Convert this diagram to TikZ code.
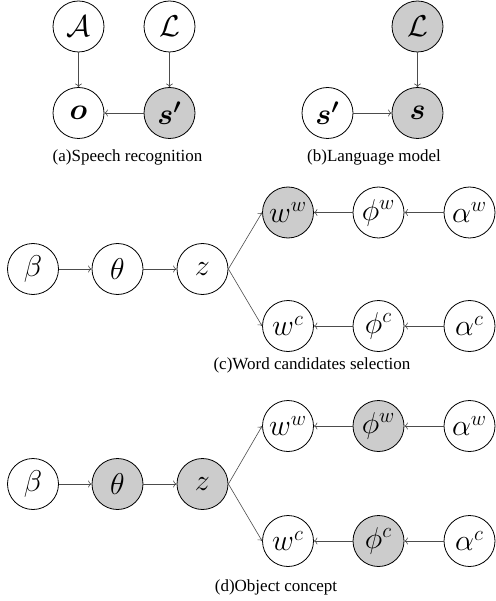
\documentclass[tikz,border=0pt]{standalone}
\usepackage{amsmath}
\usepackage{bm}
\usepackage{graphicx}
\usepackage{fontspec}
\setmainfont{Liberation Serif}
\newfontfamily\capfont{Liberation Serif}
\usetikzlibrary{arrows.meta}

% variable symbol inside a circle, enlarged beyond the largest fixed math size
\newcommand{\mv}[1]{\scalebox{1.74}{\LARGE$#1$}}

\tikzset{
  var/.style={circle, draw=black, line width=0.8pt, fill=white,
    minimum size=51pt, inner sep=0pt},
  obs/.style={var, fill=gray!40},
  edge/.style={draw=black!70, line width=0.6pt, -{To[length=3.5pt,width=7pt]}},
  subcap/.style={font=\capfont\fontsize{17}{20}\selectfont, inner sep=0pt}
}

\begin{document}
\begin{tikzpicture}[x=1pt, y=-1pt]
\useasboundingbox (0,0) rectangle (495,601);

% (a) speech recognition
\node[var] (aA) at (78.5,26.5) {\mv{\mathcal{A}}};
\node[var] (aL) at (169.5,26.5) {\mv{\mathcal{L}}};
\node[var] (ao) at (78.5,113) {\mv{\bm{o}}};
\node[obs] (as) at (169.5,113) {\mv{\bm{s'}}};
\draw[edge] (aA) -- (ao);
\draw[edge] (aL) -- (as);
\draw[edge] (as) -- (ao);
\node[subcap] (capa) at (127.5,157) {(a)Speech recognition};

% (b) language model
\node[obs] (bL) at (417.5,26.5) {\mv{\mathcal{L}}};
\node[var] (bsp) at (327.5,113) {\mv{\bm{s'}}};
\node[obs] (bs) at (417.5,113) {\mv{\bm{s}}};
\draw[edge] (bL) -- (bs);
\draw[edge] (bsp) -- (bs);
\node[subcap] (capb) at (374,157) {(b)Language model};

% (c) word candidates selection
\node[var] (cbeta) at (33,269) {\mv{\beta}};
\node[var] (ctheta) at (117.5,269) {\mv{\theta}};
\node[var] (cz) at (202.5,269) {\mv{z}};
\node[obs] (cww) at (288,212.5) {\mv{w^w}};
\node[var] (cwc) at (288,326) {\mv{w^c}};
\node[var] (cphiw) at (378.5,212.5) {\mv{\phi^w}};
\node[var] (cphic) at (378.5,326) {\mv{\phi^c}};
\node[var] (calw) at (469.5,212.5) {\mv{\alpha^w}};
\node[var] (calc) at (469.5,326) {\mv{\alpha^c}};
\draw[edge] (cbeta) -- (ctheta);
\draw[edge] (ctheta) -- (cz);
\draw[edge] (cz.east) -- (cww.west);
\draw[edge] (cz.east) -- (cwc.west);
\draw[edge] (cphiw) -- (cww);
\draw[edge] (calw) -- (cphiw);
\draw[edge] (cphic) -- (cwc);
\draw[edge] (calc) -- (cphic);
\node[subcap] (capc) at (312,365) {(c)Word candidates selection};

% (d) object concept
\node[var] (dbeta) at (33,484) {\mv{\beta}};
\node[obs] (dtheta) at (117.5,484) {\mv{\theta}};
\node[obs] (dz) at (202.5,484) {\mv{z}};
\node[var] (dww) at (288,426) {\mv{w^w}};
\node[var] (dwc) at (288,541) {\mv{w^c}};
\node[obs] (dphiw) at (378.5,426) {\mv{\phi^w}};
\node[obs] (dphic) at (378.5,541) {\mv{\phi^c}};
\node[var] (dalw) at (469.5,426) {\mv{\alpha^w}};
\node[var] (dalc) at (469.5,541) {\mv{\alpha^c}};
\draw[edge] (dbeta) -- (dtheta);
\draw[edge] (dtheta) -- (dz);
\draw[edge] (dz.east) -- (dww.west);
\draw[edge] (dz.east) -- (dwc.west);
\draw[edge] (dphiw) -- (dww);
\draw[edge] (dalw) -- (dphiw);
\draw[edge] (dphic) -- (dwc);
\draw[edge] (dalc) -- (dphic);
\node[subcap] (capd) at (276,587) {(d)Object concept};
\end{tikzpicture}
\end{document}
